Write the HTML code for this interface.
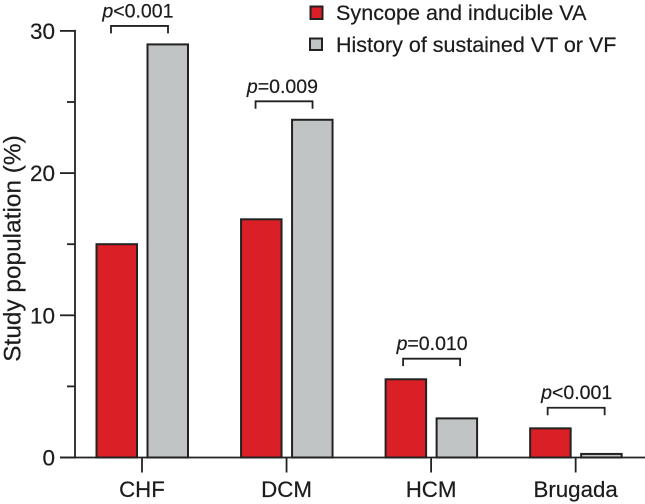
<!DOCTYPE html>
<html>
<head>
<meta charset="utf-8">
<style>
html,body{margin:0;padding:0;background:#fff;width:645px;height:504px;overflow:hidden}
svg{display:block}
text{font-family:"Liberation Sans",sans-serif;fill:#1c1c1c;stroke:#1c1c1c;stroke-width:.2}
</style>
</head>
<body>
<svg id="chart" width="645" height="504" viewBox="0 0 645 504" xmlns="http://www.w3.org/2000/svg">
<g><text transform="translate(20.5 248.5) rotate(-90)" text-anchor="middle" font-size="24.4">Study population (%)</text></g>
<g>
<rect x="310.5" y="6.5" width="12" height="12.5" fill="#da1f26" stroke="#222" stroke-width="2"/>
<text x="336" y="20" font-size="21.6">Syncope and inducible VA</text>
<rect x="310" y="38.5" width="12" height="11.5" fill="#c0c4c4" stroke="#222" stroke-width="2"/>
<text x="336" y="52" font-size="21.5">History of sustained VT or VF</text>
</g>
</svg>
<script>
const categories = ['CHF', 'DCM', 'HCM', 'Brugada'];
const syncopeValues = [15.0, 16.75, 5.5, 2.05];
const historyValues = [29.05, 23.75, 2.75, 0.25];
const pLabels = ['<0.001', '=0.009', '=0.010', '<0.001'];
const bracketLevels = [30.35, 25.05, 6.95, 3.5];
const majorTicks = [0, 10, 20, 30];
const minorTicks = [5, 15, 25];

const svg = document.getElementById('chart');
const NS = 'http://www.w3.org/2000/svg';
const yScale = v => 457.5 - v * 14.22;
const xScale = i => 142 + i * 144.55;
const ink = '#222';
function make(tag, attrs, parent) {
  const el = document.createElementNS(NS, tag);
  for (const k in attrs) el.setAttribute(k, attrs[k]);
  (parent || svg).appendChild(el);
  return el;
}
function bar(cx, value, fill, parent) {
  const y = yScale(value);
  return make('rect', {x: cx - 20, y: y, width: 40.5, height: yScale(0) - y, fill: fill, stroke: ink, 'stroke-width': 2}, parent);
}
categories.forEach((c, i) => {
  const g = make('g', {});
  
  
  const r = bar(xScale(i) - 25.5, syncopeValues[i], '#da1f26', g);
  
  
  const h = bar(xScale(i) + 25.5, historyValues[i], '#c0c4c4', g);
  
  

  const shift = i < 2 ? -3 : 0;
  const by = yScale(bracketLevels[i]);
  const x0 = xScale(i) - 28 + shift;
  const x1 = xScale(i) + 29 + shift;
  const br = make('path', {d: `M${x0} ${by + 7.5}V${by}H${x1}V${by + 7.5}`, fill: 'none', stroke: ink, 'stroke-width': 1.8}, g);
  
  

  const t = make('text', {x: xScale(i) + 1 + shift * 1.7, y: by - 8.5, 'text-anchor': 'middle', 'font-size': 19.5}, g);
  
  
  const ts = make('tspan', {'font-style': 'italic'}, t);
  ts.textContent = 'p';
  t.appendChild(document.createTextNode(pLabels[i]));

  const tick = make('line', {x1: xScale(i), x2: xScale(i), y1: yScale(0), y2: yScale(0) + 15, stroke: ink, 'stroke-width': 1.8}, g);
  
  

  const lab = make('text', {x: xScale(i), y: 497, 'text-anchor': 'middle', 'font-size': 22.3}, g);
  
  
  lab.textContent = c;
});

const axes = make('g', {});


const yAxis = make('line', {x1: 75, x2: 75, y1: yScale(30) - 1, y2: yScale(0) + 1, stroke: ink, 'stroke-width': 1.8}, axes);


const xAxis = make('line', {x1: 60, x2: 645, y1: yScale(0), y2: yScale(0), stroke: ink, 'stroke-width': 1.8}, axes);


majorTicks.forEach(v => {
  const l = make('line', {x1: 60, x2: 75, y1: yScale(v), y2: yScale(v), stroke: ink, 'stroke-width': 1.8}, axes);
  
  
  const t = make('text', {x: 55, y: yScale(v) + 8, 'text-anchor': 'end', 'font-size': 22.5}, axes);
  
  
  t.textContent = v;
});
minorTicks.forEach(v => {
  const l = make('line', {x1: 67, x2: 75, y1: yScale(v), y2: yScale(v), stroke: ink, 'stroke-width': 1.8}, axes);
  
  
});
</script>
</body>
</html>
